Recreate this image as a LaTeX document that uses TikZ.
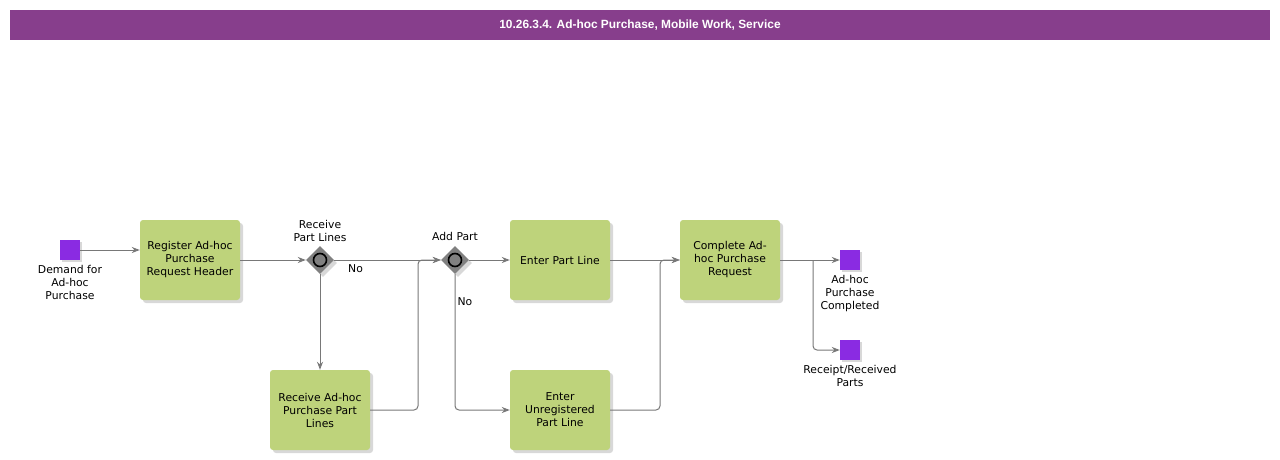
\documentclass[tikz,border=0pt]{standalone}
\usepackage{fontspec}
\setmainfont{DejaVu Sans}
\newfontfamily\titlefont{Liberation Sans}
\usetikzlibrary{arrows.meta,shapes.geometric,shadows}
\definecolor{titlebar}{RGB}{135,62,140}
\definecolor{taskgreen}{RGB}{190,211,123}
\definecolor{evpurple}{RGB}{138,43,226}
\definecolor{linegray}{RGB}{120,120,120}
\definecolor{gwgray}{RGB}{128,128,128}
\tikzset{
  x=1pt,y=-1pt,
  txt/.style={font=\fontsize{10.8}{13}\selectfont,align=center,inner sep=0pt},
  task/.style={draw=none,fill=taskgreen,rounded corners=3pt,minimum width=100pt,minimum height=80pt,
    txt,drop shadow={shadow xshift=3pt,shadow yshift=-3pt,fill=black!25,opacity=0.6}},
  event/.style={draw=none,fill=evpurple,minimum size=20pt,inner sep=0pt,
    drop shadow={shadow xshift=2pt,shadow yshift=-2pt,fill=black!25,opacity=0.6}},
  gateway/.style={diamond,draw=none,fill=gwgray,minimum size=28pt,inner sep=0pt,
    drop shadow={shadow xshift=3pt,shadow yshift=-3pt,fill=black!25,opacity=0.6}},
  flow/.style={draw=linegray,line width=1pt,-{Stealth[length=8pt,width=6pt]},rounded corners=4pt},
  lbl/.style={txt}
}
\begin{document}
\begin{tikzpicture}
\useasboundingbox (0,0) rectangle (1280,460);
\fill[white] (0,0) rectangle (1280,460);
% title
\node[fill=titlebar,minimum width=1260pt,minimum height=30pt,inner sep=0pt,text=white,
  font=\titlefont\bfseries\fontsize{11.9}{13}\selectfont] (title) at (640,25) {10.26.3.4. Ad-hoc Purchase, Mobile Work, Service};
% events
\node[event] (start) at (70,250) {};
\node[lbl,anchor=north] (startl) at (70,265) {Demand for\\Ad-hoc\\Purchase};
\node[event] (end1) at (850,260) {};
\node[lbl,anchor=north] (end1l) at (850,275) {Ad-hoc\\Purchase\\Completed};
\node[event] (end2) at (850,350) {};
\node[lbl,anchor=north] (end2l) at (850,365) {Receipt/Received\\Parts};
% tasks
\node[task] (t1) at (190,260) {Register Ad-hoc\\Purchase\\Request Header};
\node[task] (t2) at (320,410) {Receive Ad-hoc\\Purchase Part\\Lines};
\node[task] (t3) at (560,260) {Enter Part Line};
\node[task] (t4) at (560,410) {Enter\\Unregistered\\Part Line};
\node[task] (t5) at (730,260) {Complete Ad-\\hoc Purchase\\Request};
% gateways
\node[gateway] (g1) at (320,260) {};
\draw[black,line width=1.6pt,fill=gwgray] (g1.center) circle (6.5pt);
\node[lbl,anchor=south] (g1l) at (320,242) {Receive\\Part Lines};
\node[gateway] (g2) at (455,260) {};
\draw[black,line width=1.6pt,fill=gwgray] (g2.center) circle (6.5pt);
\node[lbl,anchor=south] (g2l) at (455,241) {Add Part};
% flows
\draw[flow] (start.east) -- (t1.west |- start.east);
\draw[flow] (t1.east) -- (g1.west);
\draw[flow] (g1.east) -- node[lbl,pos=0.2,below=4pt] {No} (g2.west);
\draw[flow] (g1.south) -- (t2.north);
\coordinate (j1) at (418,260);
\draw[flow] (t2.east) -| (j1) -- (g2.west);
\draw[flow] (g2.east) -- (t3.west);
\draw[flow] (g2.south) |- node[lbl,pos=0.1,right=2pt] {No} (t4.west);
\draw[flow] (t3.east) -- (t5.west);
\coordinate (j2) at (660,260);
\draw[flow] (t4.east) -| (j2) -- (t5.west);
\coordinate (j3) at (813,260);
\draw[flow] (t5.east) -- (end1.west);
\draw[flow] (j3) |- (end2.west);
\end{tikzpicture}
\end{document}
